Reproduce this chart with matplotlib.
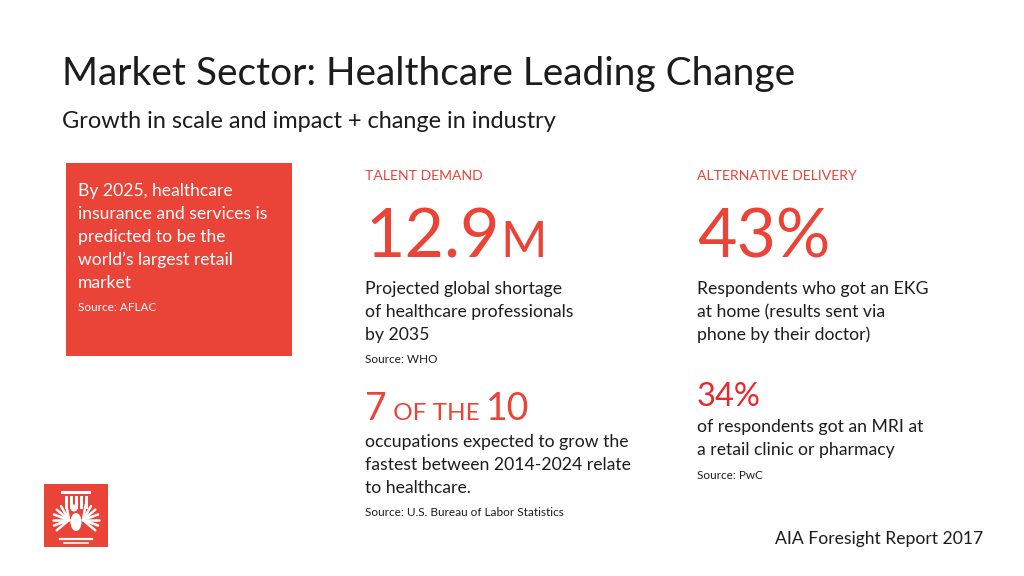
import matplotlib
matplotlib.use("Agg")
import numpy as np
import matplotlib.pyplot as plt
import matplotlib.patches as mpatches

plt.rcParams['font.family'] = ['Lato', 'DejaVu Sans']

RED = '#ea4338'
BRIGHT_RED = '#e8282b'
INK = '#1c1c1c'

# slide content
title = "Market Sector: Healthcare Leading Change"
subtitle = "Growth in scale and impact + change in industry"

box_lines = ["By 2025, healthcare", "insurance and services is",
             "predicted to be the", "world\u2019s largest retail", "market"]
box_source = "Source: AFLAC"

stat_headers = ["TALENT DEMAND", "ALTERNATIVE DELIVERY"]
stat_values = ["12.9", "43%"]
stat_suffix = ["M", ""]
stat_lines = [["Projected global shortage", "of healthcare professionals", "by 2035"],
              ["Respondents who got an EKG", "at home (results sent via", "phone by their doctor)"]]
stat_sources = ["Source: WHO", None]

occ_parts = ["7", " OF THE ", "10"]
occ_lines = ["occupations expected to grow the", "fastest between 2014-2024 relate", "to healthcare."]
occ_source = "Source: U.S. Bureau of Labor Statistics"

mri_value = "34%"
mri_lines = ["of respondents got an MRI at", "a retail clinic or pharmacy"]
mri_source = "Source: PwC"

footer = "AIA Foresight Report 2017"

fig = plt.figure(figsize=(10.24, 5.76), dpi=100)
ax = fig.add_axes([0, 0, 1, 1])
ax.set_xlim(0, 1024)
ax.set_ylim(576, 0)
ax.axis('off')

ax.text(62, 85, title, fontsize=28, color=INK, va='baseline')
ax.text(62, 128, subtitle, fontsize=16.9, color=INK, va='baseline')

# red callout box
ax.add_patch(mpatches.Rectangle((66, 163), 226, 193, color=RED, lw=0))
for i, line in enumerate(box_lines):
    ax.text(78, 196 + i * 23, line, fontsize=12.6, color='white', va='baseline')
ax.text(78, 311, box_source, fontsize=8.5, color='white', va='baseline')

fig.canvas.draw()
renderer = fig.canvas.get_renderer()
inv = ax.transData.inverted()

def right_edge(t):
    bb = t.get_window_extent(renderer)
    return inv.transform((bb.x1, bb.y0))[0]

col_x = [365, 697]
for i in range(2):
    x = col_x[i]
    ax.text(x, 180, stat_headers[i], fontsize=10.1, color=RED, va='baseline')
    t = ax.text(x, 257, stat_values[i], fontsize=49, color=RED, va='baseline')
    if stat_suffix[i]:
        fig.canvas.draw()
        ax.text(right_edge(t) + 1, 257, stat_suffix[i], fontsize=36, color=RED, va='baseline')
    for j, line in enumerate(stat_lines[i]):
        ax.text(x, 294 + j * 23, line, fontsize=12.7, color=INK, va='baseline')
    if stat_sources[i]:
        ax.text(x, 363, stat_sources[i], fontsize=8.5, color=INK, va='baseline')

# 7 of the 10
x = 365
sizes = [27, 17.5, 27]
for part, s in zip(occ_parts, sizes):
    t = ax.text(x, 420, part, fontsize=s, color=RED, va='baseline')
    fig.canvas.draw()
    x = right_edge(t)
for j, line in enumerate(occ_lines):
    ax.text(365, 447 + j * 23, line, fontsize=12.7, color=INK, va='baseline')
ax.text(365, 516, occ_source, fontsize=8.5, color=INK, va='baseline')

# 34%
ax.text(697, 406, mri_value, fontsize=23.5, color=BRIGHT_RED, va='baseline')
for j, line in enumerate(mri_lines):
    ax.text(697, 432 + j * 23, line, fontsize=12.7, color=INK, va='baseline')
ax.text(697, 479, mri_source, fontsize=8.5, color=INK, va='baseline')

ax.text(983, 544, footer, fontsize=12.6, color=INK, va='baseline', ha='right')

# AIA logo (simplified column + eagle)
ax.add_patch(mpatches.Rectangle((44, 484), 64, 63, color=RED, lw=0))
ax.add_patch(mpatches.Rectangle((61, 491), 30, 3, color='white', lw=0))
for k in range(5):
    ax.add_patch(mpatches.Rectangle((65 + k * 5, 496), 2.5, 13, color='white', lw=0))
ax.add_patch(mpatches.Ellipse((76, 522), 11, 18, color='white', lw=0))
ax.add_patch(mpatches.Circle((74, 508), 3.5, color='white', lw=0))
for ang in np.linspace(-40, 80, 7):
    a = np.radians(ang)
    for side in (-1, 1):
        x0 = 76 + side * 7
        ax.plot([x0, x0 + side * 16 * np.cos(a)], [520, 520 - 16 * np.sin(a)],
                color='white', lw=1.8, solid_capstyle='round')
ax.plot([60, 92], [539, 539], color='white', lw=1.6)
ax.plot([64, 88], [543, 543], color='white', lw=1.2)

fig.savefig("out.png", dpi=100, facecolor='white')
